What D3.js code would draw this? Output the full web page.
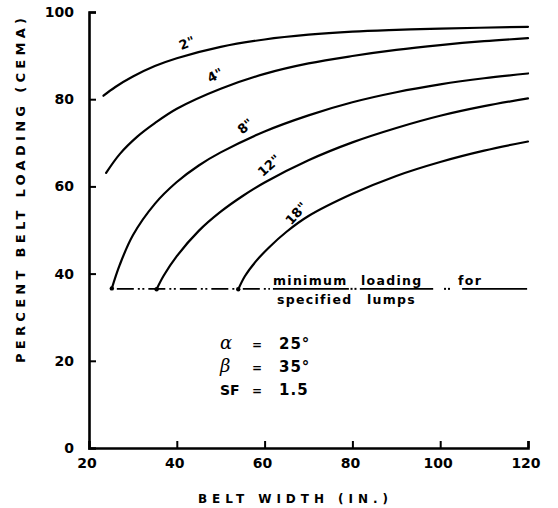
<!DOCTYPE html>
<html>
<head>
<meta charset="utf-8">
<script src="https://cdnjs.cloudflare.com/ajax/libs/d3/7.8.5/d3.min.js"></script>
<style>
body { margin: 0; background: #fff; }
</style>
</head>
<body>
<div id="chart"></div>
<script>
// belt width (in.) / percent belt loading
var curve2 = [[23.3, 80.8], [26, 82.8], [30, 85.2], [35, 87.6], [40, 89.4], [50, 92.0], [60, 93.7], [70, 94.8], [80, 95.5], [90, 95.9], [100, 96.2], [120, 96.6]];
var curve4 = [[23.9, 63.1], [27, 67.4], [31, 71.4], [35, 74.5], [40, 77.8], [50, 82.4], [60, 85.8], [70, 88.2], [80, 89.9], [90, 91.3], [100, 92.4], [110, 93.3], [120, 94.0]];
var curve8 = [[25.2, 36.6], [27, 42.0], [30, 48.8], [35, 56.0], [40, 61.0], [45, 64.8], [50, 67.8], [60, 72.6], [70, 76.3], [80, 79.3], [90, 81.6], [100, 83.4], [110, 84.8], [120, 85.9]];
var curve12 = [[35.4, 36.4], [37, 39.5], [40, 44.0], [45, 49.8], [50, 54.2], [55, 57.8], [60, 60.9], [70, 66.0], [80, 70.1], [90, 73.4], [100, 76.2], [110, 78.4], [120, 80.2]];
var curve18 = [[54.0, 36.4], [55.5, 39.4], [58, 42.8], [61, 46.0], [65, 49.6], [70, 53.2], [80, 58.3], [90, 62.4], [100, 65.6], [110, 68.2], [120, 70.3]];

var curveNames = ['2"', '4"', '8"', '12"', '18"'];
var curves = [curve2, curve4, curve8, curve12, curve18];
// label anchor (width, loading) and slant for each curve name
var labelW = [42.3, 48.7, 55.6, 61.0, 67.2];
var labelV = [92.9, 85.5, 73.8, 64.8, 53.8];
var labelAngle = [-22, -28, -40, -42, -48];

var minLoading = 36.5;
var minSolid = [[61.9, 79.2], [81.7, 98.4], [105.0, 119.8]];
var minDots = [79.8, 80.7, 101.1, 102.0];

var xTicks = [20, 40, 60, 80, 100, 120];
var yTicks = [0, 20, 40, 60, 80, 100];

var params = [["α", "25°"], ["β", "35°"], ["SF", "1.5"]];

var width = 558, height = 508;
var svg = d3.select("#chart").append("svg")
    .attr("width", width)
    .attr("height", height);

var x = d3.scaleLinear().domain([20, 120]).range([89, 528]);
var y = d3.scaleLinear().domain([0, 100]).range([448, 12]);

var font = "'DejaVu Sans', sans-serif";

// axes
var xAxis = svg.append("g")
    .attr("transform", "translate(0," + y(0) + ")")
    .call(d3.axisTop(x).tickValues(xTicks).tickSize(7).tickFormat(""));
var yAxis = svg.append("g")
    .attr("transform", "translate(" + x(20) + ",0)")
    .call(d3.axisRight(y).tickValues(yTicks).tickSize(7).tickFormat(""));
[xAxis, yAxis].forEach(function(a) {
    a.select(".domain").attr("stroke", "#000").attr("stroke-width", 2.6);
    a.selectAll(".tick line").attr("stroke", "#000").attr("stroke-width", 2);
});
yAxis.selectAll(".tick").filter(function(d) { return d === 0; }).remove();
xAxis.selectAll(".tick").filter(function(d) { return d === 20; }).remove();

svg.selectAll(".xlab")
    .data(xTicks)
  .enter().append("text")
    .attr("x", function(d) { return x(d) - 2; })
    .attr("y", 468)
    .attr("text-anchor", "middle")
    .attr("font-family", font)
    .attr("font-weight", "bold")
    .attr("font-size", 14)
    .text(function(d) { return d; });

svg.selectAll(".ylab")
    .data(yTicks)
  .enter().append("text")
    .attr("x", 74)
    .attr("y", function(d) { return y(d) + 5; })
    .attr("text-anchor", "end")
    .attr("font-family", font)
    .attr("font-weight", "bold")
    .attr("font-size", 14)
    .text(function(d) { return d; });

svg.append("text")
    .attr("x", 198)
    .attr("y", 503)
    .attr("font-family", font)
    .attr("font-weight", "bold")
    .attr("font-size", 12)
    .attr("textLength", 190)
    .attr("lengthAdjust", "spacing")
    .text("BELT  WIDTH  (IN.)");

svg.append("text")
    .attr("transform", "translate(25,363)rotate(-90)")
    .attr("font-family", font)
    .attr("font-weight", "bold")
    .attr("font-size", 13)
    .attr("textLength", 345)
    .attr("lengthAdjust", "spacing")
    .text("PERCENT  BELT  LOADING  (CEMA)");

// curves
var line = d3.line()
    .x(function(d) { return x(d[0]); })
    .y(function(d) { return y(d[1]); })
    .curve(d3.curveCatmullRom.alpha(0.5));

svg.selectAll(".curve")
    .data(curves)
  .enter().append("path")
    .attr("class", "curve")
    .attr("fill", "none")
    .attr("stroke", "#000")
    .attr("stroke-width", 2.2)
    .attr("stroke-linecap", "round")
    .attr("d", line);

svg.selectAll(".start")
    .data(curves.slice(2))
  .enter().append("circle")
    .attr("cx", function(d) { return x(d[0][0]); })
    .attr("cy", function(d) { return y(d[0][1]); })
    .attr("r", 2.2)
    .attr("fill", "#000");

svg.selectAll(".clab")
    .data(curveNames)
  .enter().append("text")
    .attr("transform", function(d, i) {
        return "translate(" + x(labelW[i]) + "," + y(labelV[i]) + ")rotate(" + labelAngle[i] + ")";
    })
    .attr("text-anchor", "middle")
    .attr("dy", "0.35em")
    .attr("font-family", font)
    .attr("font-weight", "bold")
    .attr("font-size", 13)
    .text(function(d) { return d; });

// minimum loading line
var ym = y(minLoading);
svg.append("line")
    .attr("x1", x(curve8[0][0]) + 5)
    .attr("x2", x(minSolid[0][0]) - 3)
    .attr("y1", ym).attr("y2", ym)
    .attr("stroke", "#000")
    .attr("stroke-width", 1.8)
    .attr("stroke-dasharray", "17,4,2,2.5,2,4");
svg.selectAll(".minseg")
    .data(minSolid)
  .enter().append("line")
    .attr("x1", function(d) { return x(d[0]); })
    .attr("x2", function(d) { return x(d[1]); })
    .attr("y1", ym).attr("y2", ym)
    .attr("stroke", "#000")
    .attr("stroke-width", 1.8);
svg.selectAll(".mindot")
    .data(minDots)
  .enter().append("rect")
    .attr("x", function(d) { return x(d) - 1; })
    .attr("y", ym - 1)
    .attr("width", 2)
    .attr("height", 2)
    .attr("fill", "#000");

var noteFont = { "font-family": font, "font-weight": "bold", "font-size": 12.5 };
[["minimum", 273, 285], ["loading", 361, 285], ["for", 458, 285], ["specified", 277, 304], ["lumps", 367, 304]].forEach(function(t) {
    var el = svg.append("text").attr("x", t[1]).attr("y", t[2]).attr("letter-spacing", 1.3).text(t[0]);
    for (var k in noteFont) el.attr(k, noteFont[k]);
});

// parameters
var rows = svg.selectAll(".param")
    .data(params)
  .enter().append("g")
    .attr("transform", function(d, i) { return "translate(0," + (349 + i * 23) + ")"; });
rows.append("text")
    .attr("x", 220)
    .attr("font-family", function(d, i) { return i < 2 ? "'DejaVu Serif', serif" : font; })
    .attr("font-style", function(d, i) { return i < 2 ? "italic" : "normal"; })
    .attr("font-weight", function(d, i) { return i < 2 ? "normal" : "bold"; })
    .attr("font-size", function(d, i) { return i < 2 ? 18 : 14; })
    .text(function(d) { return d[0]; });
rows.append("text")
    .attr("x", 257)
    .attr("text-anchor", "middle")
    .attr("font-family", font)
    .attr("font-weight", "bold")
    .attr("font-size", 12)
    .text("=");
rows.append("text")
    .attr("x", 279)
    .attr("font-family", font)
    .attr("font-weight", "bold")
    .attr("font-size", 15)
    .attr("letter-spacing", 1)
    .text(function(d) { return d[1]; });
</script>
</body>
</html>
